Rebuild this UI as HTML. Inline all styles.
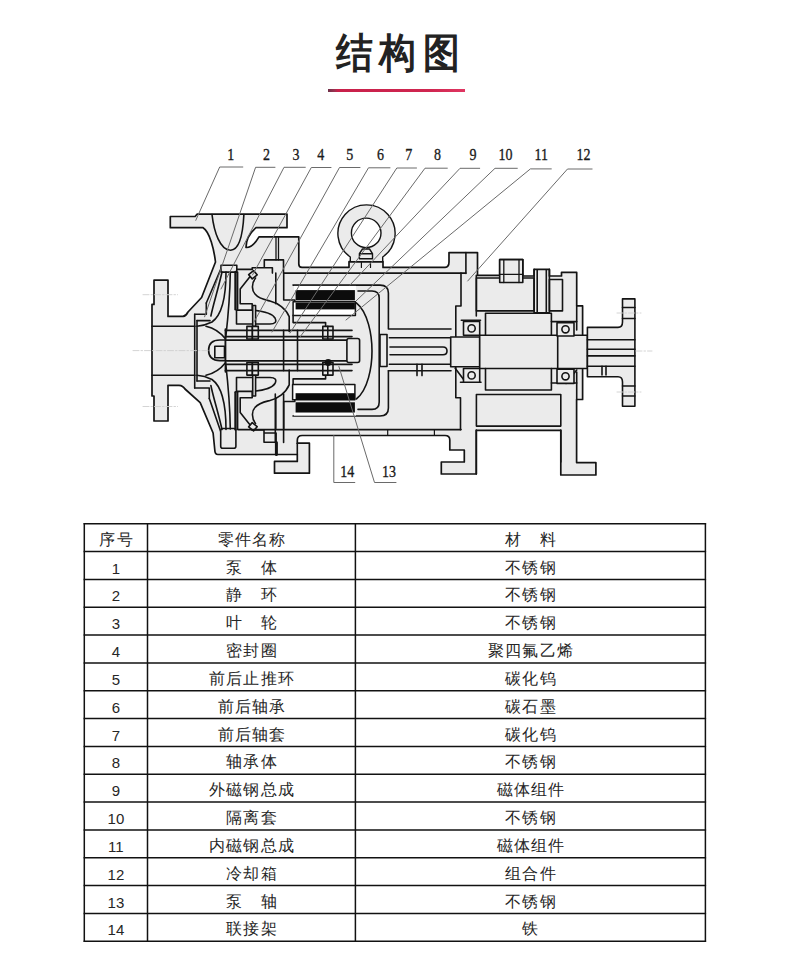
<!DOCTYPE html>
<html><head><meta charset="utf-8">
<style>
html,body{margin:0;padding:0;background:#fff;}
body{width:790px;height:973px;position:relative;overflow:hidden;font-family:"Liberation Sans",sans-serif;color:#222;}
.title{position:absolute;left:336px;top:25px;font-size:41px;font-weight:700;letter-spacing:7.3px;line-height:56px;color:#222;white-space:nowrap;transform:scaleX(0.9);transform-origin:0 0;}
.rline{position:absolute;left:328px;top:89px;width:136.5px;height:2.8px;background:linear-gradient(90deg,#6e3048 0%,#a03050 5%,#c8204a 7%,#d02650 75%,#e03662 100%);}
svg{position:absolute;left:0;top:0;}
svg.tbl line{stroke:#111;stroke-width:1.5;}
.c{position:absolute;height:27.84px;line-height:31px;text-align:center;font-size:16px;letter-spacing:1.25px;text-indent:1.25px;color:#262626;white-space:nowrap;}
.d{font-size:15px;letter-spacing:0;text-indent:0;line-height:34px;}
</style></head><body>
<div class="title">结构图</div>
<div class="rline"></div>
<svg class="draw" width="790" height="520" viewBox="0 0 790 520">
<g stroke-linejoin="round" stroke-linecap="round">
<path fill="#ebebeb" stroke="#141414" stroke-width="1.7" d="M170.3,216.5 H195.1 L197,214.2 H287 V227.7 H256 C250,233 246,240 246,247.5 C252,248 256,242 259,236.9 H298.8 V264 Q298.8,267.4 302,267.4 H349 V261.7 H383 V267.4 H445 Q449,267 449,262 V252.6 H477.5 V275.4 H499.7 V259.6 H522.8 V276 H534.1 V269.4 H549.4 V276 H561.5 V272.4 H576.7 V305.8 H582.6 V399.5 H576.6 V462.6 H595.9 V475 H560.8 V430.3 H476.3 V474 H441.3 V462 H464.3 V450 H449.8 V440 Q449.8,435.5 445,435.5 H302.2 Q297.3,435.5 297.3,440.5 V443.2 H309.4 V473.2 H274.5 V461.4 H297.3 V454.5 H218 Q214.8,454.5 214.8,450 L213.1,433 L200.2,402.7 L185,389 Q183,385.5 179,385.3 H168 V421 H154 V396 H152 V304.4 H154 V280.2 H168 V316.4 H183 Q186,316 188,312 L201.6,297.5 L215.5,262 C214,250 210,232 203.1,227.7 H170.3 Z"/>
<g fill="none" stroke="#141414" stroke-width="1.6">
<path d="M212,214.5 C214,232 220,250 230.6,250.2 C240,250 243,232 243.9,214.5"/>
<path d="M152,326.2 H195 M152,375.3 H195"/>
<path d="M194.7,314.2 V388 M197,320.6 V381"/>
<path d="M194.7,314.2 H206.3 V303 M197,320.6 H210"/>
<path d="M194.7,388 H209.3 V398.5 M197,381 H210"/>
<path d="M222.4,265.2 L206.3,303"/>
<path d="M209.3,398.5 L220.7,431.6"/>
<rect x="221" y="265.2" width="15.8" height="6.9" fill="#ebebeb"/>
<rect x="220.7" y="428.5" width="15.2" height="19.8" rx="2" fill="#ebebeb"/>
<path d="M222,272 C218,290 213,305 210.9,316"/>
<path d="M226,272 C226,295 222,315 212,322 C206,325 200,326 197,326.2"/>
<path d="M230.3,272.6 C230,295 228,318 225.7,338"/>
<path d="M206,326.2 C214,328 221,333 225.7,339"/>
<path d="M235.5,272 V309.2" stroke-width="2.4"/>
<path d="M237.6,272 V309.2"/>
<path d="M250.5,276 L240.2,288.9 V303.7 H252.2 V310.1"/>
<path d="M255.5,278 C251,284 252,291 255,294 C259,299 266,300 270,301 C278,303 286,309 289.2,316.6 V331.5"/>
<path fill="#ebebeb" d="M236.5,310.1 H252.2 C262,311 272,313 275,318 C277,322 275,324 270,324 H236.5 Z"/>
<path d="M275.8,273.1 V303.7 M283.7,273.1 V300 H294.8 V302"/>
<rect x="-3.2" y="-2.8" width="6.4" height="5.6" fill="#ebebeb" transform="translate(252.9,274.7) rotate(-40)"/>
<rect x="252.7" y="305.5" width="2.9" height="21" fill="#ebebeb"/>
<path d="M293.1,315.4 V322.6 H325.6 V331.5"/>
<rect x="246.9" y="326.4" width="5.5" height="12.6" fill="#ebebeb"/>
<rect x="252.4" y="326.4" width="5.9" height="12.6" fill="#ebebeb"/>
<rect x="322.8" y="326.4" width="5" height="12.6" fill="#ebebeb"/>
<rect x="327.8" y="326.4" width="5.2" height="12.6" fill="#ebebeb"/>
<g transform="translate(0,701.5) scale(1,-1)"><path d="M222,272 C218,290 213,305 210.9,316"/>
<path d="M226,272 C226,295 222,315 212,322 C206,325 200,326 197,326.2"/>
<path d="M230.3,272.6 C230,295 228,318 225.7,338"/>
<path d="M206,326.2 C214,328 221,333 225.7,339"/>
<path d="M235.5,272 V309.2" stroke-width="2.4"/>
<path d="M237.6,272 V309.2"/>
<path d="M250.5,276 L240.2,288.9 V303.7 H252.2 V310.1"/>
<path d="M255.5,278 C251,284 252,291 255,294 C259,299 266,300 270,301 C278,303 286,309 289.2,316.6 V331.5"/>
<path fill="#ebebeb" d="M236.5,310.1 H252.2 C262,311 272,313 275,318 C277,322 275,324 270,324 H236.5 Z"/>
<path d="M275.8,273.1 V303.7 M283.7,273.1 V300 H294.8 V302"/>
<rect x="-3.2" y="-2.8" width="6.4" height="5.6" fill="#ebebeb" transform="translate(252.9,274.7) rotate(-40)"/>
<rect x="252.7" y="305.5" width="2.9" height="21" fill="#ebebeb"/>
<path d="M293.1,315.4 V322.6 H325.6 V331.5"/>
<rect x="246.9" y="326.4" width="5.5" height="12.6" fill="#ebebeb"/>
<rect x="252.4" y="326.4" width="5.9" height="12.6" fill="#ebebeb"/>
<rect x="322.8" y="326.4" width="5" height="12.6" fill="#ebebeb"/>
<rect x="327.8" y="326.4" width="5.2" height="12.6" fill="#ebebeb"/></g>
<path d="M237.4,269.4 H252.2 V267.7 H264.3 V259.9 H283.5 V273.1 M264.3,267.7 H272.4 V273.1"/>
<path d="M276,237.5 V259.9 M278.5,237.5 V259.9" stroke-width="1.3"/>
<path d="M283.7,273.1 H465.9"/>
<path d="M465.9,252.6 V273.4"/>
<path d="M238,429.6 H461"/>
<path d="M251.8,430 H264 V433 H276.1 V442.2 H264 V433"/>
<path d="M275.3,394 V442.4 M283.6,394 V442.4"/>
<path d="M276.4,442.4 V454.4" stroke-width="3"/>
<path d="M297.3,443.2 V454.5"/>
<rect x="225.4" y="340.1" width="126.6" height="20.8" fill="#ebebeb"/>
<path fill="#ebebeb" d="M224.5,340 H220 C211,340 208.6,345 208.6,350.3 C208.6,355.5 211,360.6 220,360.6 H224.5"/>
<rect x="214.8" y="346.3" width="9.7" height="11.5" fill="#ebebeb"/>
<path d="M225.4,330.4 H352 M225.4,370.6 H352 M225.4,336.6 H352 M225.4,364.4 H352"/>
<path d="M225.4,329 V372"/>
<path d="M283.6,330.4 V370.6 M297.5,330.4 V370.6"/>
<rect x="346.9" y="338.5" width="12.7" height="24" rx="2" fill="#ebebeb"/>
<path d="M293,285.1 H380 Q388.4,285.1 388.4,293 V329 H451 M388.4,370.8 V408 Q388.4,416 380,416 H293"/>
<path d="M358,291 H372 Q379.2,291 379.2,298 V402 Q379.2,409.4 372,409.4 H358"/>
<path d="M356.3,302.8 C368,312 372,335 372,351 C372,367 368,390 356.3,399"/>
<path d="M388.4,370.8 H451"/>
<path d="M389.4,337.8 H450.7 M389.4,364.2 H450.7"/>
<path d="M390,347 H443 Q447,347 447,351 Q447,354.8 443,354.8 H390"/>
<rect x="380" y="334.5" width="7" height="32" fill="#ebebeb"/>
<path d="M417,364.2 V375.6 M422,364.2 V375.6"/>
<circle cx="328.2" cy="362.5" r="2.6" fill="#141414"/>
<path d="M461,273 V306 H455.8 V397.8 H460.5 V429.8"/>
<rect x="450.7" y="337" width="29" height="29.8" fill="#ebebeb"/>
<rect x="479.7" y="335.2" width="107.7" height="33.3" fill="#ebebeb"/>
<path d="M557.7,335.2 V368.5"/>
<path d="M485.5,313.3 H551.4 V335.2 M485.5,313.3 V335.2 M485.5,368.5 V390 H551.4 V368.5"/>
<rect x="476.4" y="278" width="57.7" height="32.9"/>
<rect x="549.4" y="279.5" width="13.1" height="31.4"/>
<path d="M534.1,269.4 V312.9 H549.4 V269.4 M537.2,270 V312.9 M546.3,270 V312.9"/>
<rect x="499.7" y="259.6" width="23.1" height="22.9" fill="#ebebeb"/>
<path d="M499.7,274.4 H522.8 M503.8,259.6 V282.5 M519,259.6 V282.5" stroke-width="1.3"/>
<path d="M476.3,275.4 V316 M461.3,320.3 H480.5"/>
<path d="M551.4,321.6 H576.7 M551.4,383 H576.7"/>
<path d="M576.7,305.8 V330 M576.7,372 V399.5"/>
<rect x="476.4" y="394.5" width="84.4" height="31.6"/>
<path d="M476.3,430 V474 M560.8,430 V462"/>
<path d="M460.5,382.2 H481 M455.2,368.2 L463.8,379.7 M566,383.4 L576.7,370"/>
<rect x="463.5" y="321.5" width="16.2" height="13.7" fill="#ebebeb"/>
<circle cx="471.6" cy="328.4" r="3.6"/>
<rect x="463.5" y="368.5" width="16.2" height="13.7" fill="#ebebeb"/>
<circle cx="471.6" cy="375.4" r="3.6"/>
<rect x="557" y="322.7" width="17" height="13.3" fill="#ebebeb"/>
<circle cx="565.5" cy="329.3" r="3.6"/>
<rect x="557" y="369.2" width="17" height="14.2" fill="#ebebeb"/>
<circle cx="565.5" cy="376.3" r="3.6"/>
<path fill="#ebebeb" d="M587.4,327.4 H618 Q622.5,327.4 622.5,322 V298.9 H634.9 V406.2 H622.5 V382 Q622.5,376.8 618,376.8 H587.4 Z"/>
<path d="M587.4,339.7 H634.9 M587.4,349.2 H634.9 M587.4,355.9 H634.9 M587.4,366.3 H634.9"/>
<path d="M622.5,307.5 H634.9 M622.5,318.5 H634.9 M622.5,386 H634.9 M622.5,396 H634.9"/>
<path d="M602,366.3 V375 M606,366.3 V375"/>
<path fill="#ebebeb" stroke-width="1.4" d="M350.3,261.7 V257 A28.6,28.6 0 1 1 382.7,257 V261.7 Z"/>
<circle cx="366.2" cy="232.9" r="14.8" fill="#fff" stroke-width="1.4"/>
<path fill="#ebebeb" stroke-width="1.4" d="M359.4,253.7 L362.5,249 H369.5 L372.5,253.7 V258.8 H359.4 Z M359.4,253.7 H372.5"/>
<path d="M361.4,261.7 V267.4 M370.5,261.7 V267.4" stroke-width="1.2"/>
</g>
<path d="M387.7,429.8 V435.5 M434.4,429.8 V435.5" stroke="#141414" stroke-width="1.2"/>
<g stroke="#cfcfcf" stroke-width="0.9" stroke-dasharray="6 2 1.5 2" fill="none"><path d="M143,294.7 H177.6 M133,350.6 H208.8 M143,406.5 H177.6 M617,313 H641 M617,392 H641 M636,351 H652"/></g>
<g fill="#fff" stroke="none"><rect x="294" y="285.9" width="62" height="4.4"/><rect x="294" y="412.6" width="62" height="3.0"/></g>
<g fill="#fff" stroke="#141414" stroke-width="1.5"><rect x="293.1" y="301.8" width="62.3" height="13.6"/><rect x="292.6" y="384.6" width="62.3" height="15.2"/></g>
<g fill="#0c0c0c"><rect x="295.6" y="290.1" width="59.3" height="10.2"/><rect x="295.6" y="302.6" width="59.3" height="6.8"/><rect x="295.6" y="393.2" width="59.3" height="6.8"/><rect x="295.6" y="402.3" width="59.3" height="10.2"/></g>
<g fill="none" stroke="#6a6a6a" stroke-width="1">
<path d="M242.8,167 H219.7 L195.8,220.3"/>
<path d="M275,167.3 H255.6 L204.6,316.8"/>
<path d="M305.3,167.3 H284 L221,289"/>
<path d="M331,167.5 H311.3 L252.5,275"/>
<path d="M360,167.5 H339.5 L254,322"/>
<path d="M390,167.8 H368.5 L272,332"/>
<path d="M416.5,168 H396.8 L290,333"/>
<path d="M447.3,168.2 H425 L300,337"/>
<path d="M479.7,168.3 H460 L350,285"/>
<path d="M517.3,168.3 H495 L356.3,300.7"/>
<path d="M551.3,168.9 H530.4 L346,320"/>
<path d="M592.1,169 H567.5 L467.7,281"/>
<path d="M333.8,435.5 V482.5 H354.8"/>
<path d="M338.9,366.5 L374.5,482.5 H396"/>
</g>
<g font-family="Liberation Serif" font-size="17.5" fill="#1a1a1a" text-anchor="middle" stroke="#1a1a1a" stroke-width="0.35">
<text transform="translate(230.8,160.1) scale(0.8,1)">1</text>
<text transform="translate(266.5,160.1) scale(0.8,1)">2</text>
<text transform="translate(295.9,160.1) scale(0.8,1)">3</text>
<text transform="translate(320.7,160.1) scale(0.8,1)">4</text>
<text transform="translate(349.7,160.1) scale(0.8,1)">5</text>
<text transform="translate(380.5,160.1) scale(0.8,1)">6</text>
<text transform="translate(408.8,160.1) scale(0.8,1)">7</text>
<text transform="translate(437.5,160.1) scale(0.8,1)">8</text>
<text transform="translate(472.9,160.1) scale(0.8,1)">9</text>
<text transform="translate(505.4,160.1) scale(0.8,1)">10</text>
<text transform="translate(541.3,160.1) scale(0.8,1)">11</text>
<text transform="translate(583.6,160.1) scale(0.8,1)">12</text>
<text transform="translate(347.2,476.8) scale(0.8,1)">14</text>
<text transform="translate(389,476.8) scale(0.8,1)">13</text>
</g>
</g></svg>
<svg class="tbl" width="790" height="973" viewBox="0 0 790 973">
<line x1="83.6" y1="523.70" x2="706.1" y2="523.70"/>
<line x1="83.6" y1="551.54" x2="706.1" y2="551.54"/>
<line x1="83.6" y1="579.38" x2="706.1" y2="579.38"/>
<line x1="83.6" y1="607.22" x2="706.1" y2="607.22"/>
<line x1="83.6" y1="635.06" x2="706.1" y2="635.06"/>
<line x1="83.6" y1="662.90" x2="706.1" y2="662.90"/>
<line x1="83.6" y1="690.74" x2="706.1" y2="690.74"/>
<line x1="83.6" y1="718.58" x2="706.1" y2="718.58"/>
<line x1="83.6" y1="746.42" x2="706.1" y2="746.42"/>
<line x1="83.6" y1="774.26" x2="706.1" y2="774.26"/>
<line x1="83.6" y1="802.10" x2="706.1" y2="802.10"/>
<line x1="83.6" y1="829.94" x2="706.1" y2="829.94"/>
<line x1="83.6" y1="857.78" x2="706.1" y2="857.78"/>
<line x1="83.6" y1="885.62" x2="706.1" y2="885.62"/>
<line x1="83.6" y1="913.46" x2="706.1" y2="913.46"/>
<line x1="83.6" y1="941.30" x2="706.1" y2="941.30"/>
<line x1="84.3" y1="523.0" x2="84.3" y2="942.00"/>
<line x1="147.5" y1="523.0" x2="147.5" y2="942.00"/>
<line x1="355.4" y1="523.0" x2="355.4" y2="942.00"/>
<line x1="705.4" y1="523.0" x2="705.4" y2="942.00"/>
</svg>
<div class="c" style="left:84.3px;top:523.70px;width:63.2px">序号</div>
<div class="c" style="left:147.5px;top:523.70px;width:207.9px">零件名称</div>
<div class="c" style="left:355.4px;top:523.70px;width:350.0px">材　料</div>
<div class="c d" style="left:84.3px;top:551.54px;width:63.2px">1</div>
<div class="c" style="left:147.5px;top:551.54px;width:207.9px">泵　体</div>
<div class="c" style="left:355.4px;top:551.54px;width:350.0px">不锈钢</div>
<div class="c d" style="left:84.3px;top:579.38px;width:63.2px">2</div>
<div class="c" style="left:147.5px;top:579.38px;width:207.9px">静　环</div>
<div class="c" style="left:355.4px;top:579.38px;width:350.0px">不锈钢</div>
<div class="c d" style="left:84.3px;top:607.22px;width:63.2px">3</div>
<div class="c" style="left:147.5px;top:607.22px;width:207.9px">叶　轮</div>
<div class="c" style="left:355.4px;top:607.22px;width:350.0px">不锈钢</div>
<div class="c d" style="left:84.3px;top:635.06px;width:63.2px">4</div>
<div class="c" style="left:147.5px;top:635.06px;width:207.9px">密封圈</div>
<div class="c" style="left:355.4px;top:635.06px;width:350.0px">聚四氟乙烯</div>
<div class="c d" style="left:84.3px;top:662.90px;width:63.2px">5</div>
<div class="c" style="left:147.5px;top:662.90px;width:207.9px">前后止推环</div>
<div class="c" style="left:355.4px;top:662.90px;width:350.0px">碳化钨</div>
<div class="c d" style="left:84.3px;top:690.74px;width:63.2px">6</div>
<div class="c" style="left:147.5px;top:690.74px;width:207.9px">前后轴承</div>
<div class="c" style="left:355.4px;top:690.74px;width:350.0px">碳石墨</div>
<div class="c d" style="left:84.3px;top:718.58px;width:63.2px">7</div>
<div class="c" style="left:147.5px;top:718.58px;width:207.9px">前后轴套</div>
<div class="c" style="left:355.4px;top:718.58px;width:350.0px">碳化钨</div>
<div class="c d" style="left:84.3px;top:746.42px;width:63.2px">8</div>
<div class="c" style="left:147.5px;top:746.42px;width:207.9px">轴承体</div>
<div class="c" style="left:355.4px;top:746.42px;width:350.0px">不锈钢</div>
<div class="c d" style="left:84.3px;top:774.26px;width:63.2px">9</div>
<div class="c" style="left:147.5px;top:774.26px;width:207.9px">外磁钢总成</div>
<div class="c" style="left:355.4px;top:774.26px;width:350.0px">磁体组件</div>
<div class="c d" style="left:84.3px;top:802.10px;width:63.2px">10</div>
<div class="c" style="left:147.5px;top:802.10px;width:207.9px">隔离套</div>
<div class="c" style="left:355.4px;top:802.10px;width:350.0px">不锈钢</div>
<div class="c d" style="left:84.3px;top:829.94px;width:63.2px">11</div>
<div class="c" style="left:147.5px;top:829.94px;width:207.9px">内磁钢总成</div>
<div class="c" style="left:355.4px;top:829.94px;width:350.0px">磁体组件</div>
<div class="c d" style="left:84.3px;top:857.78px;width:63.2px">12</div>
<div class="c" style="left:147.5px;top:857.78px;width:207.9px">冷却箱</div>
<div class="c" style="left:355.4px;top:857.78px;width:350.0px">组合件</div>
<div class="c d" style="left:84.3px;top:885.62px;width:63.2px">13</div>
<div class="c" style="left:147.5px;top:885.62px;width:207.9px">泵　轴</div>
<div class="c" style="left:355.4px;top:885.62px;width:350.0px">不锈钢</div>
<div class="c d" style="left:84.3px;top:913.46px;width:63.2px">14</div>
<div class="c" style="left:147.5px;top:913.46px;width:207.9px">联接架</div>
<div class="c" style="left:355.4px;top:913.46px;width:350.0px">铁</div>
</body></html>
